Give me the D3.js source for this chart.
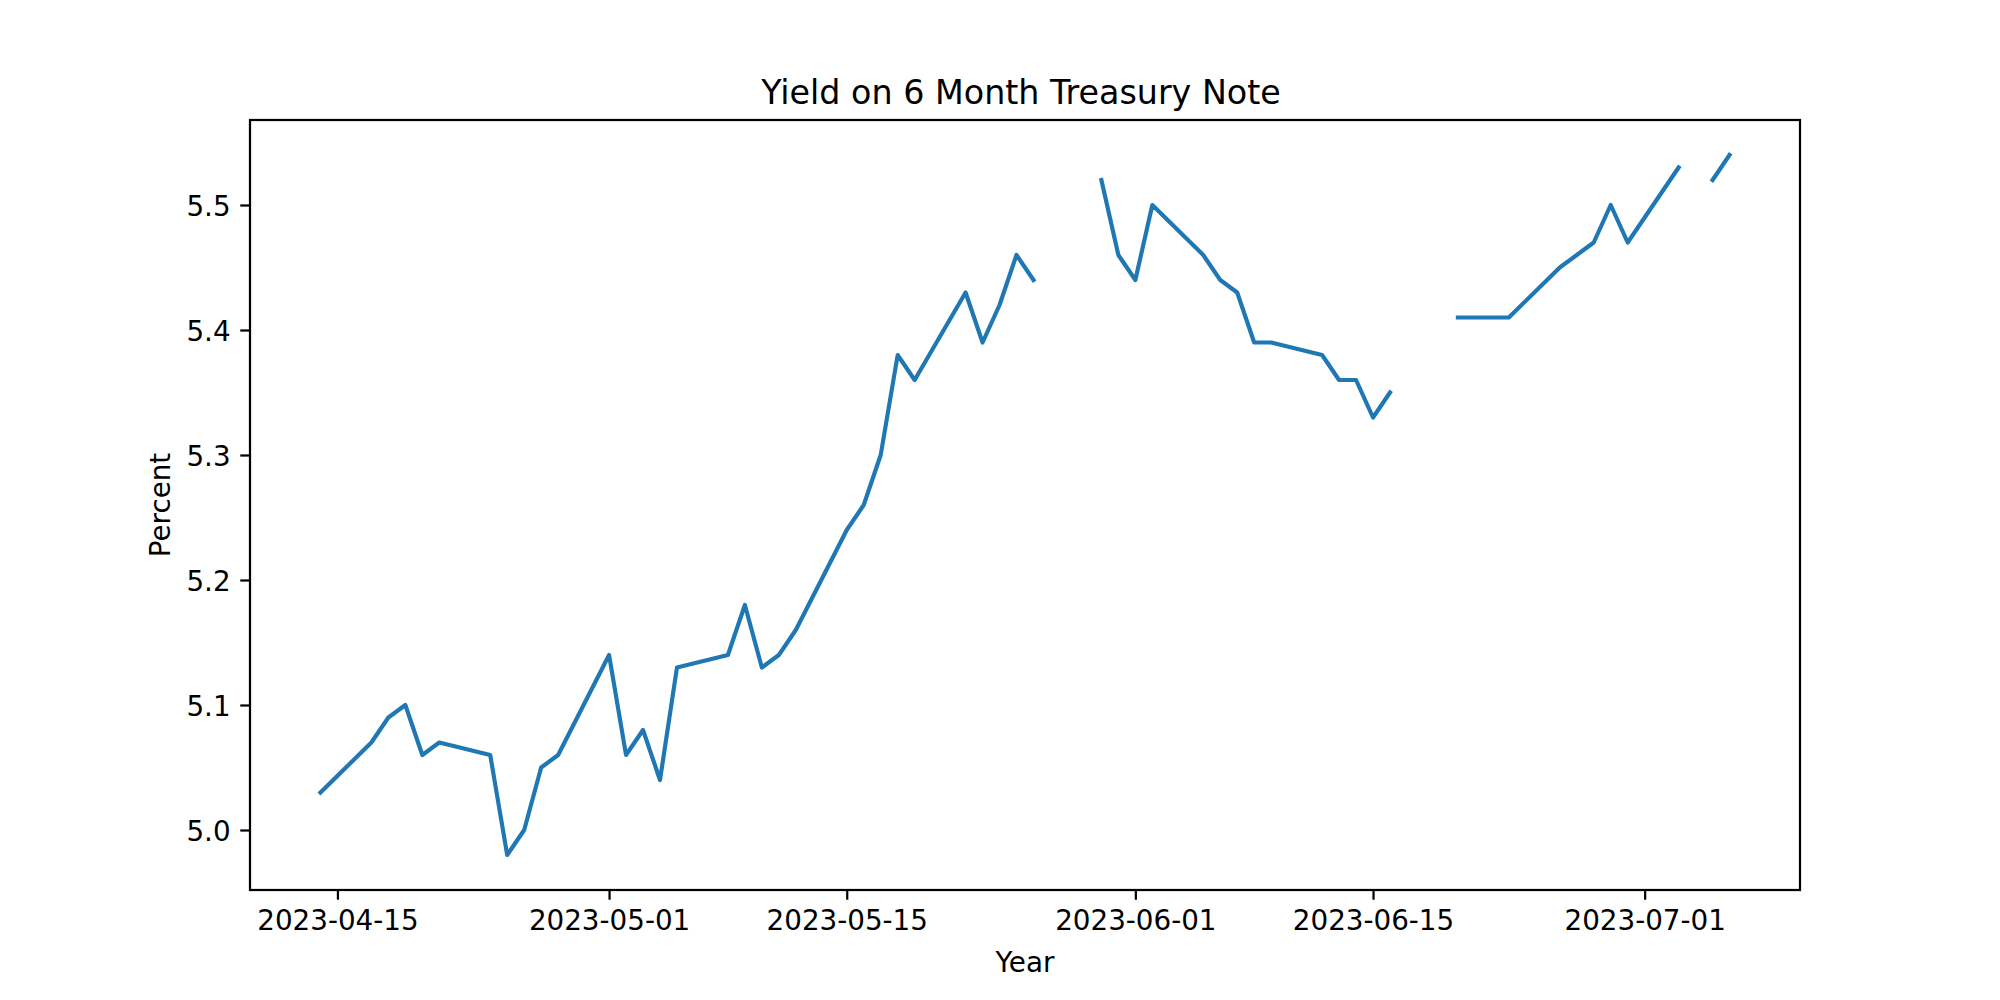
<!DOCTYPE html>
<html>
<head>
<meta charset="utf-8">
<script src="https://cdn.jsdelivr.net/npm/d3@7"></script>
<style>
  html, body { margin: 0; padding: 0; background: #fff; }
  svg { display: block; }
  text { font-family: "DejaVu Sans", sans-serif; fill: #000; }
</style>
</head>
<body>
<svg id="chart" width="2000" height="1000"></svg>
<script>
// ---- data ----
const dates = [
  "2023-04-14","2023-04-17","2023-04-18","2023-04-19","2023-04-20","2023-04-21",
  "2023-04-24","2023-04-25","2023-04-26","2023-04-27","2023-04-28",
  "2023-05-01","2023-05-02","2023-05-03","2023-05-04","2023-05-05",
  "2023-05-08","2023-05-09","2023-05-10","2023-05-11","2023-05-12",
  "2023-05-15","2023-05-16","2023-05-17","2023-05-18","2023-05-19",
  "2023-05-22","2023-05-23","2023-05-24","2023-05-25","2023-05-26",
  "2023-05-29","2023-05-30","2023-05-31","2023-06-01","2023-06-02",
  "2023-06-05","2023-06-06","2023-06-07","2023-06-08","2023-06-09",
  "2023-06-12","2023-06-13","2023-06-14","2023-06-15","2023-06-16",
  "2023-06-19","2023-06-20","2023-06-21","2023-06-22","2023-06-23",
  "2023-06-26","2023-06-27","2023-06-28","2023-06-29","2023-06-30",
  "2023-07-03","2023-07-04","2023-07-05","2023-07-06"
];
const yields = [
  5.03, 5.07, 5.09, 5.10, 5.06, 5.07,
  5.06, 4.98, 5.00, 5.05, 5.06,
  5.14, 5.06, 5.08, 5.04, 5.13,
  5.14, 5.18, 5.13, 5.14, 5.16,
  5.24, 5.26, 5.30, 5.38, 5.36,
  5.43, 5.39, 5.42, 5.46, 5.44,
  null, 5.52, 5.46, 5.44, 5.50,
  5.46, 5.44, 5.43, 5.39, 5.39,
  5.38, 5.36, 5.36, 5.33, 5.35,
  null, 5.41, 5.41, 5.41, 5.41,
  5.45, 5.46, 5.47, 5.50, 5.47,
  5.53, null, 5.52, 5.54
];
const xTickLabels = ["2023-04-15","2023-05-01","2023-05-15","2023-06-01","2023-06-15","2023-07-01"];
const yTickValues = [5.0, 5.1, 5.2, 5.3, 5.4, 5.5];
const titleText = "Yield on 6 Month Treasury Note";
const xLabelText = "Year";
const yLabelText = "Percent";

// ---- layout ----
const W = 2000, H = 1000;
const L = 250, R = 1800, T = 120, B = 890;
const fs = 10 * 200 / 72;      // 10pt at 200dpi
const tickLen = 3.5 * 200 / 72;
const tickPad = 3.5 * 200 / 72;
const lw = 0.8 * 200 / 72;

const parse = d3.utcParse("%Y-%m-%d");
const points = dates.map((d, i) => ({ date: parse(d), value: yields[i] }));

const xMin = d3.min(points, p => p.date), xMax = d3.max(points, p => p.date);
const span = xMax - xMin;
const x = d3.scaleUtc()
  .domain([new Date(+xMin - 0.05 * span), new Date(+xMax + 0.05 * span)])
  .range([L, R]);

const vals = yields.filter(v => v != null);
const yLo = d3.min(vals), yHi = d3.max(vals), yr = yHi - yLo;
const y = d3.scaleLinear()
  .domain([yLo - 0.05 * yr, yHi + 0.05 * yr])
  .range([B, T]);

const svg = d3.select("#chart");

// line
const line = d3.line()
  .defined(p => p.value != null)
  .x(p => x(p.date))
  .y(p => y(p.value));

svg.append("path")
  .datum(points)
  .attr("d", line)
  .attr("fill", "none")
  .attr("stroke", "#1f77b4")
  .attr("stroke-width", 1.5 * 200 / 72)
  .attr("stroke-linejoin", "round")
  .attr("stroke-linecap", "square");

// axes
const xAxis = d3.axisBottom(x)
  .tickValues(xTickLabels.map(parse))
  .tickFormat(d3.utcFormat("%Y-%m-%d"))
  .tickSize(tickLen)
  .tickPadding(tickPad);

const gx = svg.append("g").attr("transform", `translate(0,${B})`).call(xAxis);
gx.select(".domain").remove();
gx.selectAll(".tick line").attr("stroke", "#000").attr("stroke-width", lw);
gx.selectAll(".tick text")
  .attr("font-size", fs)
  .attr("font-family", "DejaVu Sans")
  .attr("fill", "#000")
  .attr("dy", null)
  .attr("y", tickLen + tickPad + 0.73 * fs);

const yAxis = d3.axisLeft(y)
  .tickValues(yTickValues)
  .tickFormat(d3.format(".1f"))
  .tickSize(tickLen)
  .tickPadding(tickPad);

const gy = svg.append("g").attr("transform", `translate(${L},0)`).call(yAxis);
gy.select(".domain").remove();
gy.selectAll(".tick line").attr("stroke", "#000").attr("stroke-width", lw);
gy.selectAll(".tick text")
  .attr("font-size", fs)
  .attr("font-family", "DejaVu Sans")
  .attr("fill", "#000")
  .attr("dy", null)
  .attr("y", 0.36 * fs);

// frame
svg.append("rect")
  .attr("x", L).attr("y", T)
  .attr("width", R - L).attr("height", B - T)
  .attr("fill", "none")
  .attr("stroke", "#000")
  .attr("stroke-width", lw);

// title
svg.append("text")
  .attr("x", (L + R) / 2 - 4)
  .attr("y", 103.5)
  .attr("text-anchor", "middle")
  .attr("font-size", 12 * 200 / 72)
  .text(titleText);

// x label
svg.append("text")
  .attr("x", (L + R) / 2)
  .attr("y", 971.5)
  .attr("text-anchor", "middle")
  .attr("font-size", fs)
  .text(xLabelText);

// y label
svg.append("text")
  .attr("transform", `translate(170,${(T + B) / 2}) rotate(-90)`)
  .attr("text-anchor", "middle")
  .attr("font-size", fs)
  .text(yLabelText);
</script>
</body>
</html>
